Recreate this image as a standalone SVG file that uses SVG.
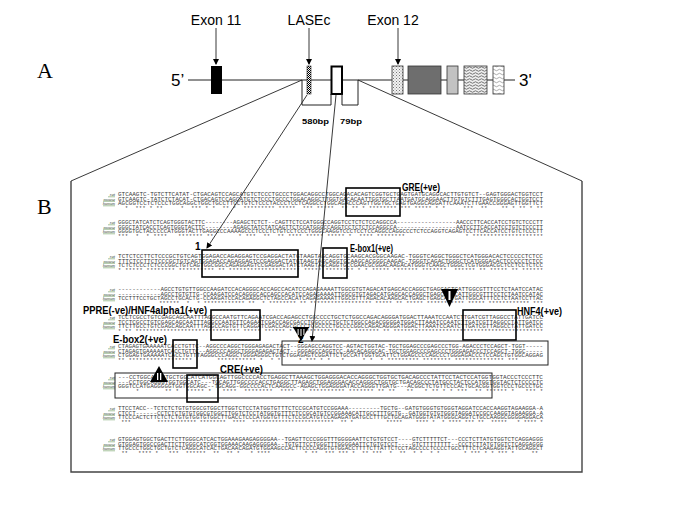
<svg xmlns="http://www.w3.org/2000/svg" width="685" height="513" viewBox="0 0 685 513">
<style>
.seq{font-family:"Liberation Mono",monospace;font-size:5px;fill:#3a3a3a;white-space:pre}
.st{font-family:"Liberation Mono",monospace;font-size:5px;fill:#3a3a3a;white-space:pre}
.sp{font-family:"Liberation Serif",serif;font-style:italic;font-size:4.5px;fill:#2f3f2f;text-anchor:end}
.ul{stroke:#6a9a5a;stroke-width:0.6}
.lbl{font-family:"Liberation Sans",Arial,sans-serif;font-weight:bold;font-size:10px;fill:#000}
.big{font-family:"Liberation Sans",Arial,sans-serif;font-size:14px;fill:#000;text-anchor:middle}
.end{font-family:"Liberation Sans",Arial,sans-serif;font-size:17px;fill:#000}
.pan{font-family:"Liberation Serif",serif;font-size:22px;fill:#000}
.bp{font-family:"Liberation Sans",Arial,sans-serif;font-weight:bold;font-size:8px;fill:#000}
.box{fill:none;stroke:#000;stroke-width:1.6}
.thin{fill:none;stroke:#222;stroke-width:1}
.con{fill:none;stroke:#222;stroke-width:0.9}
</style>
<defs>
<marker id="ah" markerWidth="6" markerHeight="6" refX="5" refY="3" orient="auto" markerUnits="userSpaceOnUse">
<path d="M0,0 L6,3 L0,6 Z" fill="#000"/>
</marker>
<pattern id="chk" width="2" height="2" patternUnits="userSpaceOnUse">
<rect width="2" height="2" fill="#fff"/><rect width="1" height="1" fill="#000"/><rect x="1" y="1" width="1" height="1" fill="#000"/>
</pattern>
<pattern id="dots" width="3" height="3" patternUnits="userSpaceOnUse">
<rect width="3" height="3" fill="#f2f2f2"/><rect width="1" height="1" fill="#777"/><rect x="1.5" y="1.5" width="1" height="1" fill="#999"/>
</pattern>
<pattern id="wave" width="6" height="3" patternUnits="userSpaceOnUse">
<rect width="6" height="3" fill="#eee"/><path d="M0,1.5 Q1.5,0 3,1.5 T6,1.5" fill="none" stroke="#555" stroke-width="0.8"/>
</pattern>
<pattern id="wave2" width="6" height="4" patternUnits="userSpaceOnUse">
<rect width="6" height="4" fill="#fff"/><path d="M0,2 Q1.5,0.5 3,2 T6,2" fill="none" stroke="#888" stroke-width="0.7"/>
</pattern>
<g id="sp3">
<text class="sp" x="115" y="2">rat</text><text class="sp" x="115" y="6.5">mouse</text><text class="sp" x="115" y="11">human</text>
<line class="ul" x1="108" y1="2.8" x2="115" y2="2.8"/><line class="ul" x1="103" y1="7.3" x2="115" y2="7.3"/><line class="ul" x1="103" y1="11.8" x2="115" y2="11.8"/>
</g>
</defs>
<rect width="685" height="513" fill="#fff"/>

<text class="pan" x="37" y="78">A</text>
<text class="pan" x="37" y="214">B</text>

<g id="gene">
<line x1="188" y1="80" x2="515" y2="80" stroke="#222" stroke-width="1"/>
<text class="end" x="171" y="86">5’</text>
<text class="end" x="519" y="86">3'</text>
</g>
<g id="exon11">
<rect x="211" y="66" width="11" height="28" fill="#000"/>
<text class="big" x="216" y="25">Exon 11</text>
</g>
<g id="lasec">
<rect x="307" y="66" width="4" height="28" fill="url(#chk)" stroke="#222" stroke-width="0.6"/>
<text class="big" x="309" y="25">LASEc</text>
</g>
<g id="box-white">
<rect x="331.5" y="66.5" width="10.5" height="27.5" fill="#fff" stroke="#000" stroke-width="2"/>
</g>
<g id="exon12">
<rect x="392" y="66" width="11" height="28" fill="url(#dots)" stroke="#333" stroke-width="0.8"/>
<text class="big" x="393" y="25">Exon 12</text>
</g>
<g id="exon13"><rect x="408" y="66" width="33" height="28" fill="#6e6e6e" stroke="#333" stroke-width="0.8"/></g>
<g id="exon14"><rect x="447" y="66" width="11" height="28" fill="#c2c2c2" stroke="#333" stroke-width="0.8"/></g>
<g id="exon15"><rect x="464" y="66" width="23" height="28" fill="url(#wave)" stroke="#333" stroke-width="0.8"/></g>
<g id="exon16"><rect x="493" y="66" width="11" height="28" fill="url(#wave2)" stroke="#333" stroke-width="0.8"/></g>

<g id="brackets">
<path class="thin" d="M302,80 V105 H331 V94 M342,94 V105 H358 V80"/>
<text class="bp" x="302" y="124" textLength="27" lengthAdjust="spacingAndGlyphs">580bp</text>
<text class="bp" x="340" y="124" textLength="22" lengthAdjust="spacingAndGlyphs">79bp</text>
</g>

<g id="panelB">
<path d="M71,181 V472 H582 V181" fill="none" stroke="#444" stroke-width="1.4"/>
</g>

<g id="connectors">
<line class="con" x1="216" y1="28" x2="216" y2="64" marker-end="url(#ah)"/>
<line class="con" x1="309" y1="28" x2="309" y2="64" marker-end="url(#ah)"/>
<line class="con" x1="398" y1="28" x2="398" y2="64" marker-end="url(#ah)"/>
<line class="con" x1="302" y1="80" x2="71" y2="181"/>
<line class="con" x1="358" y1="80" x2="582" y2="181"/>
<line class="con" x1="307" y1="95" x2="207" y2="248" marker-end="url(#ah)"/>
<line class="con" x1="336" y1="95" x2="312" y2="341" marker-end="url(#ah)"/>
</g>

<g id="block1" transform="translate(0,194)">
<use href="#sp3"/>
<text class="seq" x="118" y="2" textLength="425" lengthAdjust="spacingAndGlyphs">GTCAAGTC-TGTCTTCATAT-CTGACAGTCCAGCATGTCTCCCTGCCCTGGACAGGCCTGGCAGACACAGTCGGTGCTGAGTGATGCAGGCACTTGTGTCT--GAGTGGGACTGGTCCT</text>
<text class="seq" x="118" y="6.5" textLength="425" lengthAdjust="spacingAndGlyphs">GTCAAGTC-TATCTCTACAT-CTGACAGTCCAGCATGTCTCCCTGCCCTGGACAGGCTTGGTGACACAATTGGTGCTTAATGATGCAGGAACTTGTGTCTTTGAGTGGGCACTGGTCCT</text>
<text class="seq" x="118" y="11" textLength="425" lengthAdjust="spacingAndGlyphs">AGCGGTCCTCTCCCTGGCAGGCTGGCTGCCTTCCTGTCTCCCTACCCTCCTCAGGCCTGGCAGACCCAGTTGGTGCTGAGTGAGGCAGGATTCAAATCTTGAACCGGGAGTTGGTTCT</text>
<text class="st" x="118" y="16" textLength="425" lengthAdjust="spacing">  *  *** * **     *  *** * *  ** *  ********* *****  *** *****  ** ** * ******** *** ***** * *     ***  **    ** * ** * **</text>
</g>

<g id="block2" transform="translate(0,222)">
<use href="#sp3"/>
<text class="seq" x="118" y="2" textLength="425" lengthAdjust="spacingAndGlyphs">GGGCTATCATCTCAGTGGGTACTTC--------AGAGCTCTCT--CAGTTCTCCATGGGCCAGGTCCTCTCTCCAGGCCA-----------------AACCCTTCACCATCCTGTCTCCCTT</text>
<text class="seq" x="118" y="6.5" textLength="425" lengthAdjust="spacingAndGlyphs">GGGCTATCACCTCAGTGGGTACTTC--------AGAGCTATCTATCAGTTCTCCATGGGCCAGGTCCTCTCTCCAGGCCA-----------------AATCCTTCACCATCCTGTCTCCCTT</text>
<text class="seq" x="118" y="11" textLength="425" lengthAdjust="spacingAndGlyphs">GGGGTGCTACCCCCATGGGTACTTGAGGCCCAAAAGCCCTCCCTCTGTCCTCCCTGGGCAAGGTCCCTCCTCCAGGCCAGGCCCTCTCCAGGTCAGAGTCCTTCACCATCCTGTCTCCCTT</text>
<text class="st" x="118" y="16" textLength="425" lengthAdjust="spacing">***  *  * ****   ******* **       * ***  **  ** **** ***** ***** *  **** ********                 * ********************</text>
</g>

<g id="block3" transform="translate(0,256)">
<use href="#sp3"/>
<text class="seq" x="118" y="2" textLength="425" lengthAdjust="spacingAndGlyphs">TCTCTCCTTCTCCCGCTGTCAGTGGAGACCAGAGGAGTCCGAGGACTATGTAAGTAGCAGGTGCAAGCACGGGCAAGAC-TGGGTCAGGCTGGGCTCATGGGACACTCCCCCTCTCC</text>
<text class="seq" x="118" y="6.5" textLength="425" lengthAdjust="spacingAndGlyphs">TTTCTCCTTCTCCCGCTGTCAGTGGAGACCAGAGGAGTCCGAGGACTATGTAAGTAGCAGGTGCAAGCACGGGCAAGAC-TGGGTCAGACTGGGCTCATGGGACACTCCCCCTCTCC</text>
<text class="seq" x="118" y="11" textLength="425" lengthAdjust="spacingAndGlyphs">TCTCTCCCTCTCCCGGCTGTCAGTGGCGGCCAGAGGAGTCCGAGGACTATCTAAGTAGCAGGTGCCGAACGCGGACAAGACATGGGTCAAGCTGGGCTCGTGGGACGCTCCTCCTCTCC</text>
<text class="st" x="118" y="16" textLength="425" lengthAdjust="spacing">* ***** ******** ********** ** ******************** ***** ******** * * ***** ******* *******  ****** ** ***** ** ******</text>
</g>

<g id="block4" transform="translate(0,289)">
<use href="#sp3"/>
<text class="seq" x="118" y="2" textLength="425" lengthAdjust="spacingAndGlyphs">------------AGCCTGTGTTGGCCAAGATCCACAGGGCACCAGCCACATCCAGAGAAAATTGGCGTGTAGACATGAGCACCAGGCTGAGCAGTGATTGGCGTTTCCTCTAATCCATAC</text>
<text class="seq" x="118" y="6.5" textLength="425" lengthAdjust="spacingAndGlyphs">------------AGCCTGTGTTG-CCAAGATCCACAGGGCACCAGCCACATCCAGAGAAAATTGGCGTGTAGACATGAGCACCAGGCTGAGCAGTCATTGGCGTTTCCTCTAATCCATAC</text>
<text class="seq" x="118" y="11" textLength="425" lengthAdjust="spacingAndGlyphs">TCCTTTCCTGCTAGCCTGCACTG-CCAAGATCCACAGAGGCTCTAGCCACATCAGAGAAAATTGGCGTTTAGACACAAGCACTGAGCTGAGCAGTGATTGGCATTTCCTCTAATCCTTAC</text>
<text class="st" x="118" y="15.5" textLength="425" lengthAdjust="spacing">            ******  *  * ************ **  * ******** ** ****************** ***** ** ***** *********** ***** ************ ***</text>
</g>

<g id="block5" transform="translate(0,317)">
<use href="#sp3"/>
<text class="seq" x="118" y="2" textLength="425" lengthAdjust="spacingAndGlyphs">TCCTCGCCTGTCGAGCAGCAATTTAGGCCAATGTTCAGAATCGACCAGAGCCTGGCCCCTGCTCTGGCCAGACAGGGATGGACTTAAATCCAATCTTGATCGTTAGGCCTATTGATCC</text>
<text class="seq" x="118" y="6.5" textLength="425" lengthAdjust="spacingAndGlyphs">TCCTCGCCTGTCGAGCAGCAATTTAGGCCAATGTTCAGAATCGACCAGCGACCTGGCCCCTGCTCTGGCCAGACGGGGATGGACTTAAATCCAATCTTGATCGTTAGGCCTATTGATCC</text>
<text class="seq" x="118" y="11" textLength="425" lengthAdjust="spacingAndGlyphs">TTCTTGCCTGTCGAGCAGCAATTTAGGCCAGTGTTCAGGATCGACCAGCGCCCTGGCCCCTGCCCCGGCCAGACAGGGATGGACTTAAATCCAATCTTGATCGTTAGGCCTATTGATCC</text>
<text class="st" x="118" y="16" textLength="425" lengthAdjust="spacing">* ** ****************************** ***** ****** *   ********** * * ******* ** *******************************************</text>
</g>

<g id="block6" transform="translate(0,346)">
<use href="#sp3"/>
<text class="seq" x="118" y="2" textLength="425" lengthAdjust="spacingAndGlyphs">CTAGAGTGAAAAATCACCTGTTC--AGGCCCAGGCTGGGAGAGACTACT--GGGAGCCAGGTCC-AGTACTGGTAC-TGCTGGAGCCCGAGCCCTGG-AGACCCTCCAGCT-TGGT-----</text>
<text class="seq" x="118" y="6.5" textLength="425" lengthAdjust="spacingAndGlyphs">CTAGAGTGAAAAATCACCTGTTC--AGGCCCAGGCTGGGAGAGACTACT--GGGAGCCAGGTCC-AACACAGGCAC-TGCTGGAGCCCGAGCCCTGGGAGACCCTCCAGCT-TGGC-----</text>
<text class="seq" x="118" y="11" textLength="425" lengthAdjust="spacingAndGlyphs">CTGGAGTGAAAAATCACCTGTTTAGGGCCCAGGCTGGGAGGGCTGTCTGGAGAGTCGGATTCTGCCATTGGTGCATTCTGGAGCCCCAGCCCTGGGAGACCCTCCAGCTGTGGCAGGAG</text>
<text class="st" x="118" y="16" textLength="400" lengthAdjust="spacing">** ******************       *********** *  * *     * *** * *   *     * *  * ********* ******** ************** ***</text>
</g>

<g id="block7" transform="translate(0,377)">
<use href="#sp3"/>
<text class="seq" x="118" y="2" textLength="425" lengthAdjust="spacingAndGlyphs">---CCTGGCAGGGTGCTGGCATCATGGCAGTTGGCCCCACCTGAGGCTTAAAGCTGGAGGGACACCAGGGCTGGTGCTGACAGCCCTATTCCTACTCCATGGTGGTACCCTCCCTTC</text>
<text class="seq" x="118" y="6.5" textLength="425" lengthAdjust="spacingAndGlyphs">---CCTGGCAGGGTGGTGGCATC---TGCAGTTGGCCCCACCTGAGGCTTAGAGCTGGAGGGACACCAGGGCTGGTGCTGACAGCCCTATGCCTACTCCATGGTGGTACTCTCCCCTC</text>
<text class="seq" x="118" y="11" textLength="425" lengthAdjust="spacingAndGlyphs">GGGTCCATGAGGGGGTGGTGGCAGC--TGCAGG-GGCCCCACTCAAGGCC-AGAGCTGGAGGGATACCAGGGTTGATG---ACGGCTCTGTTCCCACTGCACGGTGGTCCCTGCCCTGC</text>
<text class="st" x="118" y="16" textLength="425" lengthAdjust="spacing">     *       ** *  ***** *   ****  ********  ****  * ********** ******* ** **   **   * ** * * ***  ** ****** *   *** *</text>
</g>

<g id="block8" transform="translate(0,408)">
<use href="#sp3"/>
<text class="seq" x="118" y="2" textLength="425" lengthAdjust="spacingAndGlyphs">TTCCTACC--TCTCTCTGTGTGGCGTGGCTTGGTCTCCTATGGTGTTTCTCCGCATGTCCGGAAA---------TGCTG--GATGTGGGTGTGGGTAGGATCCACCAAGGTAGAAGGA-A</text>
<text class="seq" x="118" y="6.5" textLength="425" lengthAdjust="spacingAndGlyphs">CTCCT------CCTCTCTGTGTGGCGTGGCTTGGTCTCCTATGGTGTTTCTCCGCATGTCCGGAAACATTGCCTTTGCTG--GATGGTGTGTGGGTAGGATCCGCCAAGGTAGAAGGA-A</text>
<text class="seq" x="118" y="11" textLength="425" lengthAdjust="spacingAndGlyphs">TTCCCACTCTTCTCTCTGTGTGGTGTGGCTTGACCTCCCATGGTGTTTCTCCGCATGTCCAGAGATGATGCCTTTGCTGCAGATGGGTATATGGGCAGGTCTGCCAAGGCGGGGAGGACA</text>
<text class="st" x="118" y="16" textLength="425" lengthAdjust="spacing"> ***        ************ ********  ****  *************************  ** *          *****    **** *  * **** *** **  *****   * **** *</text>
</g>

<g id="block9" transform="translate(0,439)">
<use href="#sp3"/>
<text class="seq" x="118" y="2" textLength="425" lengthAdjust="spacingAndGlyphs">GTGGAGTGGCTGACTTCTTGGGCATCACTGGAAAGAAGAGGGGAA--TGAGTTCCCGGGTTTGGGGAATTCTGTGTCCT----GTCTTTTTCT---CCCTCTTATGTGGTCTCAGGAGGG</text>
<text class="seq" x="118" y="6.5" textLength="425" lengthAdjust="spacingAndGlyphs">GTGGAGTGGCCGACTTCTTGGGCATCGGTGGAAACAAGAGGGGAA--TGTGTTCCTGGGTTTGGGGAATTCTGTGTCCT----GTCTTTTTTTT--CCCTCTTATGTGGTCTCAGGAGGG</text>
<text class="seq" x="118" y="11" textLength="425" lengthAdjust="spacingAndGlyphs">TTGCCCTGGCTGCTGTCTCAGGCATCACTGACAACAGATGTGGAAGCCACTTCCCCAGGTGTGGACCTTTTCTTATTCTCCTAGCCCCTCCCCTGCCTTTCTCAAGAGGTATTGCAGGCT</text>
<text class="st" x="118" y="16" textLength="420" lengthAdjust="spacing"> **   **** *   ***  ******  **  ** *   * ****          * **  *** *** *  ** ***  *  **  * *  * *       * *** * * *** *     **</text>
</g>

<g id="motif-GRE"><rect class="box" x="346" y="188" width="54" height="28"/><text class="lbl" x="402" y="191" textLength="38" lengthAdjust="spacingAndGlyphs">GRE(+ve)</text></g>
<g id="region-1"><rect class="box" x="202" y="250" width="96" height="27"/><text class="lbl" x="195" y="250">1</text></g>
<g id="motif-Ebox1"><rect class="box" x="323" y="248" width="24" height="30"/><text class="lbl" x="350" y="252" textLength="43" lengthAdjust="spacingAndGlyphs">E-box1(+ve)</text></g>
<g id="motif-PPRE"><rect class="box" x="211" y="310" width="49" height="30"/><text class="lbl" x="83" y="314" font-size="9.5" textLength="124" lengthAdjust="spacingAndGlyphs">PPRE(-ve)/HNF4alpha1(+ve)</text></g>
<g id="motif-HNF4"><rect class="box" x="463" y="310" width="53" height="30"/><text class="lbl" x="517" y="315" textLength="45" lengthAdjust="spacingAndGlyphs">HNF4(+ve)</text></g>
<g id="region-2"><rect class="thin" x="282" y="341" width="266" height="24"/><text class="lbl" x="298" y="343">2</text></g>
<g id="motif-Ebox2"><rect class="box" x="173" y="340" width="24" height="28"/><text class="lbl" x="113" y="343" textLength="54" lengthAdjust="spacingAndGlyphs">E-box2(+ve)</text></g>
<g id="region-3"><rect class="thin" x="115" y="373" width="377" height="25"/></g>
<g id="motif-CRE"><rect class="box" x="187" y="375" width="31" height="27"/><text class="lbl" x="220" y="373" textLength="43" lengthAdjust="spacingAndGlyphs">CRE(+ve)</text></g>

<g id="marker-I">
<polygon points="441,289 458,289 449.5,307" fill="#000"/>
<rect x="448.5" y="291" width="2" height="9" fill="#fff"/>
</g>
<g id="marker-III">
<polygon points="293,327 309,327 301,341" fill="#000"/>
<rect x="293" y="327" width="16" height="1.2" fill="#000"/>
<rect x="297.6" y="329" width="1" height="6" fill="#fff"/><rect x="300.5" y="329" width="1" height="7" fill="#fff"/><rect x="303.4" y="329" width="1" height="6" fill="#fff"/>
</g>
<g id="marker-II">
<polygon points="150,382 168,382 159,366" fill="#000"/>
<rect x="157" y="373" width="1.3" height="7" fill="#fff"/><rect x="160" y="373" width="1.3" height="7" fill="#fff"/>
</g>
</svg>
